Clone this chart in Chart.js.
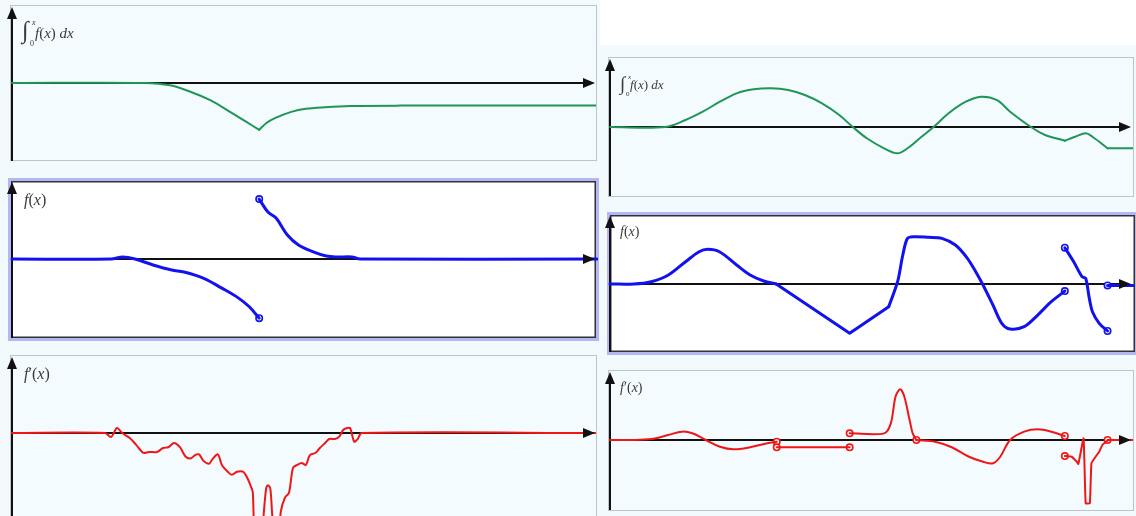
<!DOCTYPE html>
<html>
<head>
<meta charset="utf-8">
<script src="https://cdn.jsdelivr.net/npm/chart.js@4/dist/chart.umd.min.js"></script>
<style>
  body { margin: 0; width: 1136px; height: 516px; overflow: hidden; background: #fff; position: relative; }
  .bg { position: absolute; background: #f2fafd; }
  .box { position: absolute; box-sizing: border-box; border: 1px solid #bcc6ca; background: #f3fbfe; }
  .box.hl { border: 3px solid #b3b7f4; box-shadow: inset 0 0 0 1.5px #333; background: #fff; }
  canvas { position: absolute; }
  .lbl { position: absolute; font-family: 'Liberation Serif', 'DejaVu Serif', serif; color: #3a3a3a; line-height: 1; white-space: nowrap; }
  .lbl i { font-style: italic; }
  .lbl span { position: absolute; }
</style>
</head>
<body>
<div class="bg" style="left:0;top:0;width:600px;height:516px"></div>
<div class="bg" style="left:600px;top:45px;width:536px;height:471px"></div>

<div class="box" style="left:10px;top:5px;width:587px;height:156px"></div>
<div class="box hl" style="left:8px;top:178px;width:591px;height:163px"></div>
<div class="box" style="left:10px;top:355px;width:587px;height:170px"></div>
<div class="box" style="left:608px;top:57px;width:526px;height:140px"></div>
<div class="box hl" style="left:607px;top:212px;width:531px;height:143px"></div>
<div class="box" style="left:608px;top:370px;width:526px;height:141px"></div>

<canvas id="intL"></canvas>
<canvas id="fL"></canvas>
<canvas id="dL"></canvas>
<canvas id="intR"></canvas>
<canvas id="fR"></canvas>
<canvas id="dR"></canvas>

<!-- axis labels -->
<div class="lbl" style="left:22px;top:18px">
  <span style="left:0;top:0;font-size:24px">∫</span>
  <span style="left:10px;top:1px;font-size:8px"><i>x</i></span>
  <span style="left:8px;top:22px;font-size:8px">0</span>
  <span style="left:13px;top:8px;font-size:15px"><i>f</i>(<i>x</i>) <i>dx</i></span>
</div>
<div class="lbl" style="left:24px;top:192px;font-size:16px"><i>f</i>(<i>x</i>)</div>
<div class="lbl" style="left:24px;top:366px;font-size:16px"><i>f</i>′(<i>x</i>)</div>
<div class="lbl" style="left:620px;top:74px">
  <span style="left:0;top:0;font-size:19px">∫</span>
  <span style="left:8px;top:0;font-size:7px"><i>x</i></span>
  <span style="left:6px;top:17px;font-size:7px">0</span>
  <span style="left:10px;top:4px;font-size:13px"><i>f</i>(<i>x</i>) <i>dx</i></span>
</div>
<div class="lbl" style="left:620px;top:225px;font-size:14px"><i>f</i>(<i>x</i>)</div>
<div class="lbl" style="left:620px;top:381px;font-size:14px"><i>f</i>′(<i>x</i>)</div>

<script>
// ── DATA ─────────────────────────────────────────────────────────────────────
// x runs 0..10 along each axis (y axis at 0, arrow tip at 10), y is 0 on the axis

// left column: integral
const intL_a = [[0,0],[2.28,0],[2.71,-0.03],[3.07,-0.115],[3.40,-0.22],[3.74,-0.37],[4.0,-0.49],[4.24,-0.60]];
const intL_b = [[4.24,-0.60],[4.37,-0.51],[4.51,-0.45],[4.79,-0.37],[5.04,-0.33],[5.37,-0.31],[5.8,-0.295],[6.66,-0.29],[10.03,-0.29]];

// left column: f(x)
const fL_a = [[0,0],[1.70,0],[1.90,0.025],[2.11,0],[2.42,-0.074],[2.74,-0.136],[2.95,-0.16],[3.28,-0.235],[3.60,-0.36],[3.88,-0.48],[4.07,-0.59],[4.24,-0.73]];
const fL_b = [[4.24,0.74],[4.39,0.58],[4.53,0.506],[4.72,0.30],[4.92,0.17],[5.18,0.086],[5.39,0.037],[5.57,0.025],[5.83,0.025],[5.97,0],[10.03,0]];
const fL_open = [[4.24,-0.73],[4.24,0.74]];

// left column: f'(x)
const dL_a = [[0,0],[1.595,0],[1.70,-0.05],[1.80,0.063],[1.89,0],[2.02,-0.063],[2.13,-0.15],[2.25,-0.25],[2.35,-0.24],[2.49,-0.24],
  [2.59,-0.19],[2.68,-0.18],[2.78,-0.127],[2.88,-0.18],[2.98,-0.30],[3.07,-0.32],[3.14,-0.28],[3.21,-0.27],[3.28,-0.35],[3.38,-0.39],
  [3.43,-0.34],[3.53,-0.27],[3.60,-0.405],[3.70,-0.49],[3.77,-0.53],[3.86,-0.49],[3.96,-0.49],[4.03,-0.56],[4.10,-0.68],[4.13,-0.75],
  [4.16,-1.3],[4.22,-1.45],[4.29,-1.3],[4.32,-1.0],[4.36,-0.70],[4.39,-0.66],[4.43,-0.70],[4.46,-1.0],[4.50,-1.4],[4.57,-1.4],
  [4.61,-1.0],[4.68,-0.82],[4.75,-0.76],[4.82,-0.44],[4.89,-0.405],[4.97,-0.38],[5.04,-0.405],[5.11,-0.28],[5.21,-0.25],[5.28,-0.19],
  [5.37,-0.127],[5.44,-0.076],[5.54,-0.076],[5.61,-0.05],[5.68,0.038],[5.75,0.063],[5.80,0.063],[5.87,-0.11],[5.93,-0.076],[6.00,0],[10.03,0]];

// right column: integral
const intR_a = [[0,0],[1.06,0],[1.45,0.10],[1.78,0.219],[2.11,0.361],[2.43,0.481],[2.76,0.538],[3.09,0.553],[3.42,0.529],[3.74,0.457],
  [4.07,0.338],[4.40,0.171],[4.66,0],[4.93,-0.161],[5.26,-0.304],[5.52,-0.376],[5.71,-0.304],[5.98,-0.139],[6.21,0],[6.50,0.196],
  [6.83,0.361],[7.12,0.433],[7.42,0.386],[7.68,0.219],[8.08,0],[8.34,-0.11],[8.73,-0.196]];
const intR_b = [[8.73,-0.196],[8.93,-0.139],[9.13,-0.09],[9.26,-0.139],[9.55,-0.304]];
const intR_c = [[9.55,-0.304],[10.04,-0.304]];

// right column: f(x)
const fR_a = [[0,0],[0.46,0],[0.79,0.032],[1.12,0.127],[1.45,0.314],[1.71,0.455],[1.875,0.489],[2.10,0.455],[2.43,0.268],[2.69,0.127],[2.95,0.042],[3.19,0]];
const fR_b = [[3.19,0],[4.60,-0.695],[5.35,-0.319]];
const fR_c = [[5.35,-0.319],[5.52,0.032],[5.62,0.408],[5.71,0.643],[5.84,0.666],[6.11,0.657],[6.37,0.643],[6.63,0.549],[6.86,0.362],
  [7.02,0.173],[7.16,-0.014],[7.35,-0.296],[7.52,-0.553],[7.68,-0.634],[7.95,-0.601],[8.21,-0.437],[8.47,-0.249],[8.73,-0.099]];
const fR_d = [[8.73,0.511],[8.90,0.314],[9.06,0.103],[9.13,0.08],[9.20,-0.202],[9.26,-0.390],[9.39,-0.554],[9.55,-0.662]];
const fR_e = [[9.55,-0.02],[10.04,-0.02]];
const fR_open = [[8.73,-0.099],[8.73,0.511],[9.55,-0.662],[9.55,-0.02]];

// right column: f'(x)
const dR_a = [[0,0],[0.40,0],[0.79,0.014],[1.12,0.071],[1.38,0.119],[1.58,0.096],[1.84,0],[2.11,-0.096],[2.37,-0.133],[2.69,-0.104],[3.02,-0.047],[3.20,-0.024]];
const dR_b = [[3.20,-0.104],[4.60,-0.104]];
const dR_c = [[4.60,0.095],[5.26,0.095],[5.39,0.238],[5.48,0.619],[5.57,0.724],[5.65,0.619],[5.75,0.286],[5.81,0.095],[5.88,0]];
const dR_d = [[5.88,0],[6.24,-0.024],[6.56,-0.104],[6.89,-0.239],[7.16,-0.31],[7.35,-0.333],[7.49,-0.239],[7.68,0],[7.95,0.119],[8.21,0.153],[8.47,0.119],[8.73,0.057]];
const dR_e = [[8.73,-0.229],[8.86,-0.239],[8.96,-0.31],[8.99,-0.343],[9.09,0.024],[9.13,-0.904],[9.21,-0.904],[9.24,-0.333],[9.32,-0.239],[9.39,-0.167],[9.45,-0.071],[9.52,-0.024],[9.55,-0.01]];
const dR_f = [[9.55,0],[10.04,0]];
const dR_open = [[3.20,-0.024],[3.20,-0.104],[4.60,-0.104],[4.60,0.095],[5.88,0],[8.73,0.057],[8.73,-0.229],[9.55,0]];

// ── LAYOUT ───────────────────────────────────────────────────────────────────
// canvas rectangle on the page, pixel of x=0 and x=10, pixel of y=0 and px per y unit
const layout = {
  intL: { left: 4,   top: 6,   w: 592, h: 155, x0: 12,  x10: 595,  zeroY: 83,  unitY: 78 },
  fL:   { left: 4,   top: 181, w: 594, h: 157, x0: 12,  x10: 595,  zeroY: 259, unitY: 81 },
  dL:   { left: 4,   top: 356, w: 592, h: 160, x0: 12,  x10: 595,  zeroY: 433, unitY: 79 },
  intR: { left: 602, top: 58,  w: 531, h: 138, x0: 610, x10: 1131, zeroY: 127, unitY: 70 },
  fR:   { left: 602, top: 215, w: 533, h: 137, x0: 610, x10: 1131, zeroY: 284, unitY: 71 },
  dR:   { left: 602, top: 371, w: 531, h: 139, x0: 610, x10: 1131, zeroY: 440, unitY: 70 }
};

const GREEN = '#1f9655', BLUE = '#1212f0', RED = '#f01616';

const pts = (a) => a.map(([x, y]) => ({ x, y }));

// ── AXES WITH ARROWS ─────────────────────────────────────────────────────────
const arrowAxes = {
  id: 'arrowAxes',
  beforeDatasetsDraw(chart) {
    const { ctx, chartArea: a, scales: { x, y } } = chart;
    const ox = x.getPixelForValue(0), oy = y.getPixelForValue(0), tip = x.getPixelForValue(10);
    ctx.save();
    ctx.strokeStyle = '#111';
    ctx.lineWidth = 2;
    ctx.beginPath();
    ctx.moveTo(ox, a.bottom); ctx.lineTo(ox, a.top + 8);
    ctx.moveTo(ox, oy);       ctx.lineTo(tip - 8, oy);
    ctx.stroke();
    ctx.restore();
  },
  afterDatasetsDraw(chart) {
    const { ctx, chartArea: a, scales: { x, y } } = chart;
    const ox = x.getPixelForValue(0), oy = y.getPixelForValue(0), tip = x.getPixelForValue(10);
    ctx.save();
    ctx.fillStyle = '#111';
    ctx.beginPath();
    ctx.moveTo(ox, a.top + 1); ctx.lineTo(ox + 5, a.top + 13); ctx.lineTo(ox - 5, a.top + 13);
    ctx.closePath(); ctx.fill();
    ctx.beginPath();
    ctx.moveTo(tip, oy); ctx.lineTo(tip - 12, oy - 5); ctx.lineTo(tip - 12, oy + 5);
    ctx.closePath(); ctx.fill();
    ctx.restore();
  }
};

function makePanel(id, segs, opens, color, width) {
  const s = layout[id];
  const c = document.getElementById(id);
  c.width = s.w; c.height = s.h;
  c.style.left = s.left + 'px'; c.style.top = s.top + 'px';

  const xu = (s.x10 - s.x0) / 10;
  const datasets = segs.map(([arr, t]) => ({
    data: pts(arr), showLine: true, tension: t,
    borderColor: color, borderWidth: width, pointRadius: 0, pointHoverRadius: 0,
    borderCapStyle: 'round', borderJoinStyle: 'round'
  }));
  if (opens) datasets.push({
    data: pts(opens), showLine: false, pointRadius: 3.2, pointHoverRadius: 3.2,
    pointBackgroundColor: '#fff', pointBorderColor: color, pointBorderWidth: 1.6
  });

  new Chart(c, {
    type: 'scatter',
    data: { datasets },
    options: {
      responsive: false, animation: false,
      layout: { padding: 0, autoPadding: false },
      plugins: { legend: { display: false }, tooltip: { enabled: false } },
      scales: {
        x: { type: 'linear', display: false, min: (s.left - s.x0) / xu, max: (s.left + s.w - s.x0) / xu },
        y: { type: 'linear', display: false, min: -(s.top + s.h - s.zeroY) / s.unitY, max: (s.zeroY - s.top) / s.unitY }
      }
    },
    plugins: [arrowAxes]
  });
}

makePanel('intL', [[intL_a, 0.35], [intL_b, 0.35]], null, GREEN, 2);
makePanel('fL',   [[fL_a, 0.35], [fL_b, 0.35]], fL_open, BLUE, 3);
makePanel('dL',   [[dL_a, 0.3]], null, RED, 2);
makePanel('intR', [[intR_a, 0.35], [intR_b, 0.35], [intR_c, 0]], null, GREEN, 2);
makePanel('fR',   [[fR_a, 0.35], [fR_b, 0], [fR_c, 0.3], [fR_d, 0.3], [fR_e, 0]], fR_open, BLUE, 3);
makePanel('dR',   [[dR_a, 0.35], [dR_b, 0], [dR_c, 0.3], [dR_d, 0.35], [dR_e, 0.1], [dR_f, 0]], dR_open, RED, 2);
</script>
</body>
</html>
